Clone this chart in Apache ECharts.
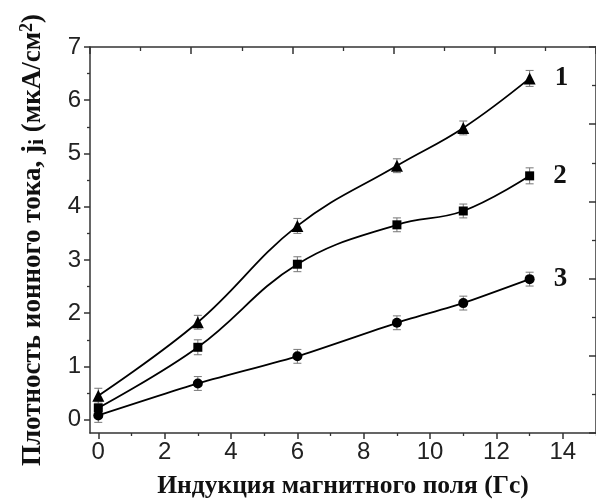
<!DOCTYPE html>
<html>
<head>
<meta charset="utf-8">
<script src="https://cdn.jsdelivr.net/npm/echarts@6/dist/echarts.min.js"></script>
<style>html,body{margin:0;padding:0;background:#fff}#c{width:596px;height:504px}</style>
</head>
<body>
<div id="c"></div>
<script>
// ---- data ----
const xValues = [0, 3, 6, 9, 11, 13];
const curve1 = [0.45, 1.83, 3.64, 4.77, 5.48, 6.41];
const curve2 = [0.22, 1.36, 2.92, 3.66, 3.92, 4.58];
const curve3 = [0.08, 0.68, 1.19, 1.82, 2.19, 2.64];
const err1 = [0.14, 0.13, 0.14, 0.13, 0.13, 0.15];
const err2 = [0.13, 0.14, 0.14, 0.13, 0.13, 0.15];
const err3 = [0.13, 0.13, 0.13, 0.13, 0.13, 0.13];
const curveNames = ['1', '2', '3'];
const xMajorTicks = [0, 2, 4, 6, 8, 10, 12, 14];
const xMinorTicks = [1, 3, 5, 7, 9, 11, 13, 15];
const yMajorTicks = [0, 1, 2, 3, 4, 5, 6, 7];
const yMinorTicks = [0.5, 1.5, 2.5, 3.5, 4.5, 5.5, 6.5];
const xTitle = 'Индукция магнитного поля (Гс)';

const chart = echarts.init(document.getElementById('c'));
const serif = "'Liberation Serif', 'Times New Roman', serif";
const sans = "'Liberation Sans', Arial, sans-serif";
const axisColor = '#333';

function pts(vals) { return vals.map((v, i) => [xValues[i], v]); }
function errs(vals, e) { return vals.map((v, i) => [xValues[i], v - e[i], v + e[i]]); }

function errSeries(vals, e) {
  return {
    type: 'custom', xAxisIndex: 0, yAxisIndex: 0, z: 1, silent: true,
    data: errs(vals, e),
    renderItem: function (params, api) {
      const lo = api.coord([api.value(0), api.value(1)]);
      const hi = api.coord([api.value(0), api.value(2)]);
      const w = 4;
      const st = { stroke: '#777', lineWidth: 1 };
      return { type: 'group', children: [
        { type: 'line', shape: { x1: lo[0], y1: lo[1], x2: hi[0], y2: hi[1] }, style: st },
        { type: 'line', shape: { x1: lo[0] - w, y1: lo[1], x2: lo[0] + w, y2: lo[1] }, style: st },
        { type: 'line', shape: { x1: hi[0] - w, y1: hi[1], x2: hi[0] + w, y2: hi[1] }, style: st }
      ]};
    }
  };
}

function lineSeries(vals, symbol, size, name, smooth) {
  const data = pts(vals).map((p, i) => {
    if (i === vals.length - 1) {
      return { value: p, label: { show: true, formatter: name, position: 'right', distance: 19,
        fontFamily: serif, fontWeight: 'bold', fontSize: 27, color: '#111' } };
    }
    return p;
  });
  return {
    type: 'line', xAxisIndex: 0, yAxisIndex: 0, z: 3, smooth: smooth,
    symbol: symbol, symbolSize: size,
    itemStyle: { color: '#000' },
    lineStyle: { color: '#000', width: 1.8 },
    data: data
  };
}

const baseLine = { show: true, onZero: false, lineStyle: { color: axisColor, width: 1.5 } };

chart.setOption({
  animation: false,
  backgroundColor: '#fff',
  grid: { left: 90, top: 47, right: -3, bottom: 70, containLabel: false },
  xAxis: [
    { type: 'value', position: 'bottom', min: -0.25, max: 15,
      axisLine: baseLine, splitLine: { show: false },
      axisTick: { show: true, inside: false, length: 6, customValues: xMajorTicks, lineStyle: { color: axisColor, width: 1.5 } },
      axisLabel: { show: true, customValues: xMajorTicks, fontFamily: sans, fontSize: 24, color: '#222', margin: 7 },
      name: xTitle, nameLocation: 'middle', nameGap: 40,
      nameTextStyle: { fontFamily: serif, fontWeight: 'bold', fontSize: 25.5, color: '#111' } },
    { type: 'value', position: 'top', min: 0, max: 10, interval: 2,
      axisLine: baseLine, splitLine: { show: false }, axisLabel: { show: false },
      axisTick: { show: true, inside: true, length: 7, lineStyle: { color: axisColor, width: 1.5 } },
      minorTick: { show: true, splitNumber: 2, length: 4, lineStyle: { color: axisColor, width: 1.3 } } },
    { type: 'value', position: 'bottom', min: -0.25, max: 15,
      axisLine: { show: false, onZero: false }, splitLine: { show: false }, axisLabel: { show: false },
      axisTick: { show: true, inside: false, length: 3, customValues: xMinorTicks, lineStyle: { color: axisColor, width: 1.3 } } }
  ],
  yAxis: [
    { type: 'value', position: 'left', min: -0.25, max: 7,
      axisLine: baseLine, splitLine: { show: false },
      axisTick: { show: true, inside: false, length: 6, customValues: yMajorTicks, lineStyle: { color: axisColor, width: 1.5 } },
      axisLabel: { show: true, customValues: yMajorTicks, fontFamily: sans, fontSize: 24, color: '#222', margin: 9 },
      name: '{a|Плотность ионного тока, j}{sub|i}{a| (мкА/см}{sup|2}{a|)}',
      nameLocation: 'middle', nameRotate: 90, nameGap: 42,
      nameTextStyle: { rich: {
        a: { fontFamily: serif, fontWeight: 'bold', fontSize: 27, color: '#111', lineHeight: 30 },
        sub: { fontFamily: serif, fontWeight: 'bold', fontSize: 22, color: '#111', verticalAlign: 'bottom', lineHeight: 30 },
        sup: { fontFamily: serif, fontWeight: 'bold', fontSize: 18, color: '#111', verticalAlign: 'top', lineHeight: 30 }
      } } },
    { type: 'value', position: 'right', min: 0, max: 10, interval: 2,
      axisLine: baseLine, splitLine: { show: false }, axisLabel: { show: false },
      axisTick: { show: true, inside: true, length: 7, lineStyle: { color: axisColor, width: 1.5 } },
      minorTick: { show: true, splitNumber: 2, length: 4, lineStyle: { color: axisColor, width: 1.3 } } },
    { type: 'value', position: 'left', min: -0.25, max: 7,
      axisLine: { show: false, onZero: false }, splitLine: { show: false }, axisLabel: { show: false },
      axisTick: { show: true, inside: false, length: 3, customValues: yMinorTicks, lineStyle: { color: axisColor, width: 1.3 } } }
  ],
  series: [
    errSeries(curve1, err1),
    errSeries(curve2, err2),
    errSeries(curve3, err3),
    lineSeries(curve1, 'triangle', 12, curveNames[0], 0.4),
    lineSeries(curve2, 'rect', 9, curveNames[1], 0.4),
    lineSeries(curve3, 'circle', 10, curveNames[2], 0.15)
  ]
});
</script>
</body>
</html>
